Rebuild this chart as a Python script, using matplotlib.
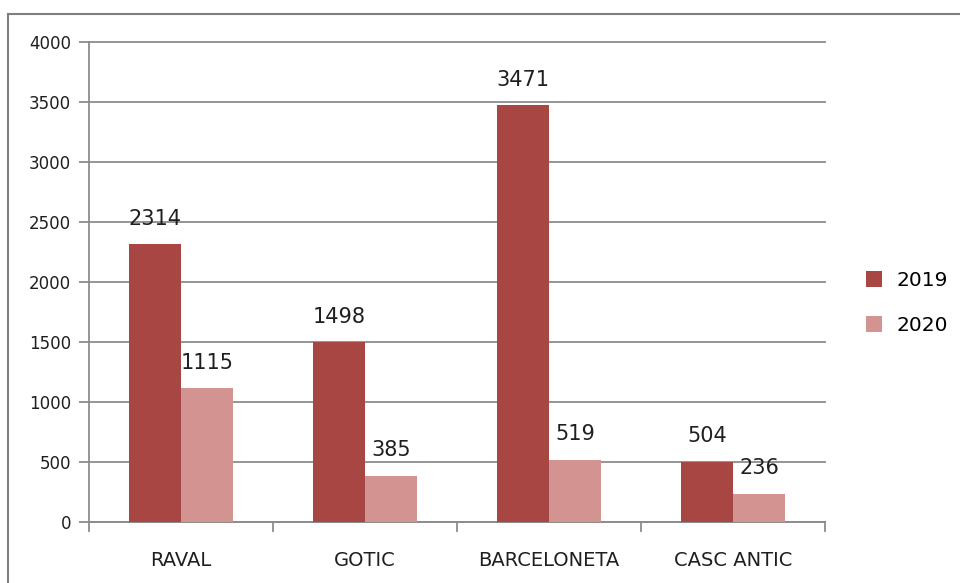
import matplotlib
matplotlib.use("Agg")
import matplotlib.pyplot as plt
from matplotlib.lines import Line2D
import numpy as np

categories = ["RAVAL", "GOTIC", "BARCELONETA", "CASC ANTIC"]
series_names = ["2019", "2020"]
values_2019 = [2314, 1498, 3471, 504]
values_2020 = [1115, 385, 519, 236]
yticks = [0, 500, 1000, 1500, 2000, 2500, 3000, 3500, 4000]

c2019 = "#A84644"
c2020 = "#D39391"
grid_c = "#8C8C8C"
text_c = "#1F1F1F"

fig = plt.figure(figsize=(9.6, 5.83), dpi=100)
ax = fig.add_axes([89/960, (583-522)/583, (825-89)/960, (522-42)/583])

x = np.arange(len(categories))
w = 0.283
b1 = ax.bar(x - w/2, values_2019, width=w, color=c2019, label=series_names[0], zorder=3)
b2 = ax.bar(x + w/2, values_2020, width=w, color=c2020, label=series_names[1], zorder=3)

for rects, vals in ((b1, values_2019), (b2, values_2020)):
    for r, v in zip(rects, vals):
        ax.text(r.get_x() + r.get_width()/2, v + 130, str(v), ha="center", va="bottom",
                fontsize=15, color=text_c)

ax.set_xlim(-0.5, len(categories) - 0.5)
ax.set_ylim(0, 4000)
ax.set_yticks(yticks)
ax.set_yticklabels([str(t) for t in yticks], fontsize=12, color=text_c)
ax.yaxis.grid(True, color=grid_c, linewidth=1.3, zorder=0)
for gl in ax.get_ygridlines():
    gl.set_clip_on(False)
ax.set_axisbelow(True)
ax.set_xticks(x)
ax.set_xticklabels(categories, fontsize=14, color=text_c)
ax.tick_params(axis="x", length=0, pad=21)
ax.tick_params(axis="y", length=7, color=grid_c, width=1.3, pad=6)

# category boundary ticks
for b in np.arange(-0.5, len(categories) + 0.5, 1.0):
    ax.add_line(Line2D([b, b], [0, -0.018], transform=ax.get_xaxis_transform(),
                       color=grid_c, linewidth=1.3, clip_on=False))

for s in ["top", "right"]:
    ax.spines[s].set_visible(False)
ax.spines["left"].set_color(grid_c)
ax.spines["left"].set_linewidth(1.3)
ax.spines["bottom"].set_color(grid_c)
ax.spines["bottom"].set_linewidth(1.3)

leg = fig.legend(handles=[b1, b2], labels=series_names, loc="center left",
                 bbox_to_anchor=(848/960, 1 - 303/583), frameon=False, fontsize=14.5,
                 handlelength=0.8, handleheight=0.8, labelspacing=1.3, handletextpad=0.7)

# outer chart frame
fig.add_artist(Line2D([8/960, 8/960], [0, 1 - 14/583], transform=fig.transFigure,
                      color="#7F7F7F", linewidth=1.5))
fig.add_artist(Line2D([8/960, 1], [1 - 14/583, 1 - 14/583], transform=fig.transFigure,
                      color="#7F7F7F", linewidth=1.5))

fig.savefig("out.png", dpi=100)
